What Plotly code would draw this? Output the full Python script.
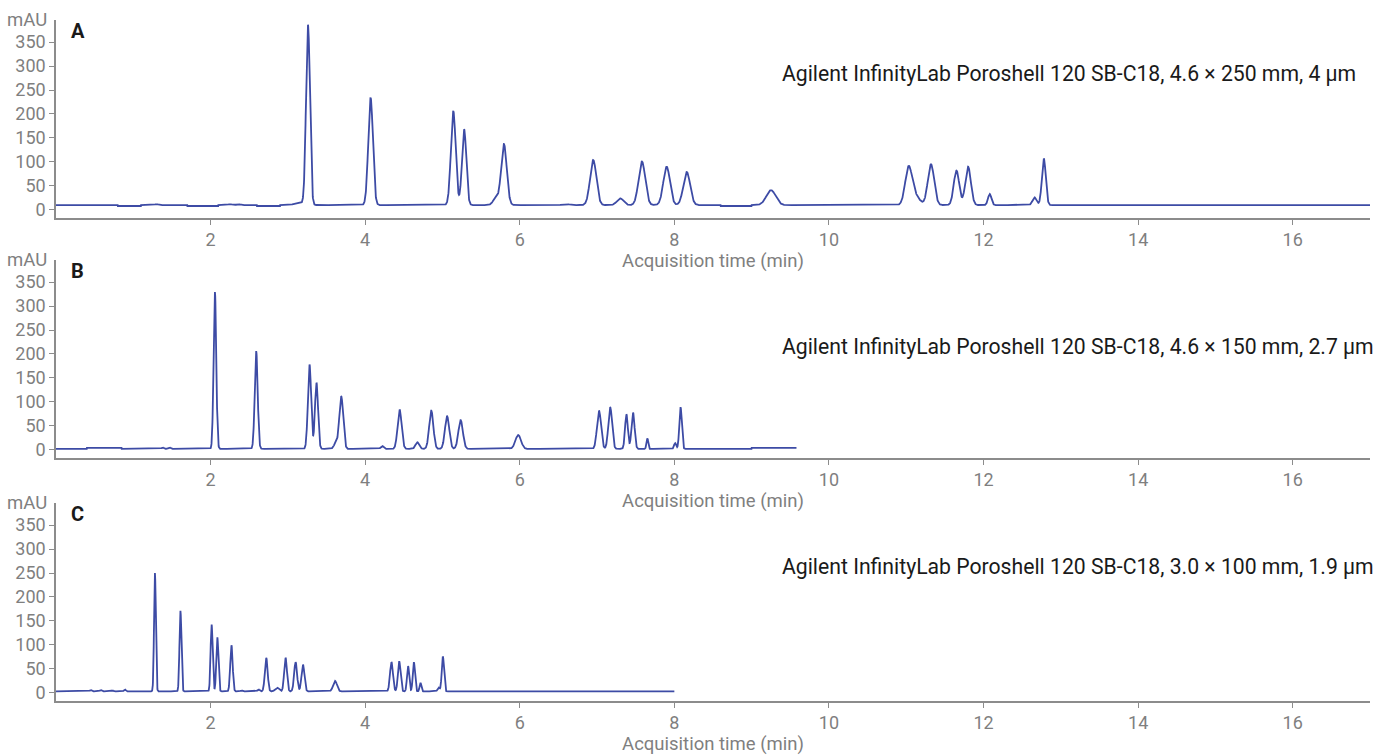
import numpy as np
import plotly.graph_objects as go

# ---------------- data ----------------
# Panel A: 4.6 x 250 mm, 4 um
a_end = 17.0
a_base_t = [0.0, 0.8, 1.1, 1.7, 2.1, 2.6, 2.9, 6.15, 6.4, 8.6, 9.0]
a_base_v = [10, 8, 10, 8, 10, 8, 10, 9, 10, 8, 10]
a_rt = [1.30, 2.25, 2.36, 3.15, 3.26, 4.07, 5.14, 5.28, 5.69, 5.795, 6.60, 6.95, 7.30, 7.58, 7.90, 8.16, 9.25, 11.03, 11.12, 11.32, 11.65, 11.80, 12.08, 12.66, 12.78]
a_h = [2, 2, 2, 4, 375, 224, 196, 158, 14, 127, 2, 94, 14, 91, 80, 69, 31, 77, 18, 85, 72, 80, 23, 16, 97]
a_w = [0.024, 0.024, 0.024, 0.07, 0.025, 0.03, 0.031, 0.028, 0.036, 0.036, 0.048, 0.041, 0.042, 0.043, 0.043, 0.044, 0.06, 0.044, 0.054, 0.041, 0.035, 0.036, 0.022, 0.026, 0.025]

# Panel B: 4.6 x 150 mm, 2.7 um
b_end = 9.58
b_base_t = [0.0, 0.4, 0.85, 9.0]
b_base_v = [2, 4, 2, 4]
b_rt = [1.38, 1.47, 2.056, 2.59, 3.28, 3.37, 3.62, 3.69, 4.22, 4.445, 4.675, 4.855, 5.06, 5.235, 5.98, 7.025, 7.17, 7.38, 7.465, 7.65, 8.01, 8.08]
b_h = [3, 3, 327, 204, 176, 138, 12, 110, 6, 82, 14, 80, 68, 60, 29, 80, 87, 72, 76, 22, 12, 87]
b_w = [0.012, 0.012, 0.017, 0.019, 0.021, 0.02, 0.024, 0.025, 0.018, 0.026, 0.024, 0.027, 0.028, 0.029, 0.036, 0.026, 0.024, 0.018, 0.02, 0.011, 0.014, 0.016]

# Panel C: 3.0 x 100 mm, 1.9 um
c_end = 8.0
c_base_t = [0.0]
c_base_v = [3]
c_rt = [0.45, 0.58, 0.73, 0.89, 1.28, 1.61, 2.013, 2.087, 2.27, 2.40, 2.62, 2.72, 2.86, 2.97, 3.10, 3.195, 3.61, 4.34, 4.44, 4.555, 4.63, 4.715, 4.95, 5.005]
c_h = [3, 3, 2, 4, 247, 168, 140, 113, 96, 2, 4, 70, 8, 70, 61, 56, 22, 61, 63, 53, 61, 18, 8, 73]
c_w = [0.012, 0.012, 0.012, 0.012, 0.0115, 0.0125, 0.013, 0.0135, 0.0155, 0.012, 0.014, 0.018, 0.024, 0.018, 0.019, 0.019, 0.025, 0.019, 0.017, 0.014, 0.014, 0.011, 0.014, 0.0145]

labels = ["A", "B", "C"]
columns = [
    "Agilent InfinityLab Poroshell 120 SB-C18, 4.6 × 250 mm, 4 µm",
    "Agilent InfinityLab Poroshell 120 SB-C18, 4.6 × 150 mm, 2.7 µm",
    "Agilent InfinityLab Poroshell 120 SB-C18, 3.0 × 100 mm, 1.9 µm",
]
y_ticks = [0, 50, 100, 150, 200, 250, 300, 350]
x_ticks = [2, 4, 6, 8, 10, 12, 14, 16]
x_title = "Acquisition time (min)"
y_unit = "mAU"


def trace_of(end, bt, bv, rt, h, w):
    t = np.arange(0.0, end + 1e-9, 0.002)
    idx = np.searchsorted(np.array(bt), t, side="right") - 1
    y = np.array(bv, dtype=float)[idx]
    for c, hh, ww in zip(rt, h, w):
        y = y + hh * np.exp(-0.5 * ((t - c) / ww) ** 2)
    return t, y


panels = [
    trace_of(a_end, a_base_t, a_base_v, a_rt, a_h, a_w),
    trace_of(b_end, b_base_t, b_base_v, b_rt, b_h, b_w),
    trace_of(c_end, c_base_t, c_base_v, c_rt, c_h, c_w),
]

# ---------------- figure ----------------
W, H = 1379, 756
ml, mr, mt, mb = 56, 9, 20, 55
plot_h = H - mt - mb
domains = [[(701 - 218) / plot_h, 1.0], [(701 - 458) / plot_h, (701 - 260) / plot_h], [0.0, (701 - 503) / plot_h]]

line_col = "#3d4ba5"
grey = "#7f7f7f"
axis_col = "#8c8c8c"
font = "Roboto"

fig = go.Figure()
layout = dict(
    width=W, height=H,
    margin=dict(l=ml, r=mr, t=mt, b=mb, autoexpand=False),
    paper_bgcolor="white", plot_bgcolor="white",
    showlegend=False,
    font=dict(family=font, color=grey, size=18),
)

annotations = []
for i, (t, y) in enumerate(panels):
    n = "" if i == 0 else str(i + 1)
    fig.add_trace(go.Scatter(x=t, y=y, mode="lines", line=dict(color=line_col, width=1.8),
                             xaxis="x" + n, yaxis="y" + n, hoverinfo="skip"))
    layout["xaxis" + n] = dict(
        domain=[0, 1], anchor="y" + n, range=[0, 17], tickvals=x_ticks, automargin=False,
        showline=True, linecolor=axis_col, linewidth=1.5, ticks="outside", ticklen=5,
        tickcolor=axis_col, showgrid=False, zeroline=False,
        tickfont=dict(family=font, size=18, color=grey),
        title=dict(text=x_title, font=dict(family=font, size=18.5, color=grey), standoff=4),
    )
    layout["yaxis" + n] = dict(
        domain=domains[i], anchor="x" + n, range=[-17, 396], tickvals=y_ticks, automargin=False,
        showline=True, linecolor=axis_col, linewidth=1.5, ticks="outside", ticklen=5,
        tickcolor=axis_col, showgrid=False, zeroline=False,
        tickfont=dict(family=font, size=18, color=grey),
    )
    top = domains[i][1]
    annotations.append(dict(xref="paper", yref="paper", x=0, y=top, xanchor="right", yanchor="middle",
                            xshift=-7, yshift=0, text=y_unit, showarrow=False,
                            font=dict(family=font, size=18.5, color=grey)))
    annotations.append(dict(xref="x" + n + " domain", yref="y" + n + " domain", x=0, y=1,
                            xanchor="left", yanchor="top", xshift=13, yshift=3,
                            text="<b>" + labels[i] + "</b>", showarrow=False,
                            font=dict(family=font, size=20, color="#1a1a1a")))
    ann_x = [1358, 1376, 1376][i]
    ann_y = [74, 347, 566][i]
    annotations.append(dict(xref="paper", yref="paper",
                            x=(ann_x - ml) / (W - ml - mr), y=(H - mb - ann_y) / plot_h,
                            xanchor="right", yanchor="middle", text=columns[i], showarrow=False,
                            font=dict(family=font, size=21.2, color="#1a1a1a")))

layout["annotations"] = annotations
fig.update_layout(**layout)
fig.write_html("out.html", config={"displayModeBar": False},
               post_script="document.body.style.margin='0';document.body.style.overflow='hidden';")
